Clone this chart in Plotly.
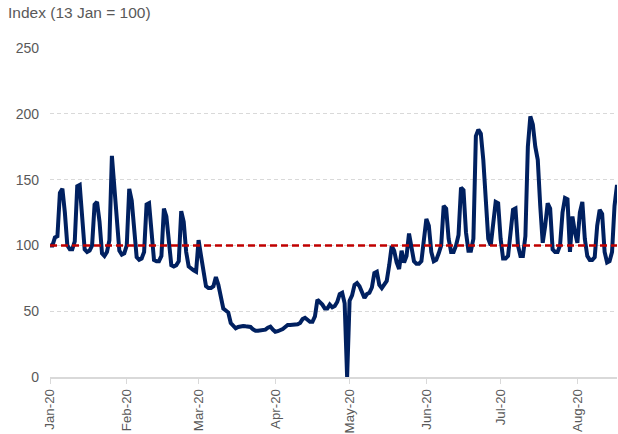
import pandas as pd
import plotly.graph_objects as go

START_DATE = "2020-01-13"
BASE = 100

# Daily index values (13 Jan = 100)
index_values = [
    100, 100, 106, 107, 140, 143, 125,
    100, 97, 97, 103, 145, 146, 118,
    97, 95, 96, 100, 131, 133, 118,
    94, 92, 95, 104, 168, 145, 120,
    96, 93, 94, 100, 143, 134, 112,
    91, 89, 90, 95, 131, 132, 108,
    89, 88, 88, 92, 128, 122, 100,
    85, 84, 85, 88, 126, 118, 95,
    84, 82, 81, 80, 104, 92, 78,
    69, 67.6, 67.6, 69, 76, 70, 62,
    52, 50.5, 49, 41, 39, 37, 38,
    38.8, 38.8, 38.5, 38.3, 38, 36.2, 35.2,
    35.2, 35.5, 35.2, 36, 37.5, 38.3, 36,
    34.4, 34.8, 35.5, 36.5, 38, 39.5, 39.5,
    39.5, 39.5, 40, 41, 44, 45, 43,
    42, 42, 46, 58.7, 57, 55, 52,
    52, 55, 53, 54, 57, 63, 64,
    56, 0, 58, 62, 70, 71.4, 69,
    65, 60, 63, 64, 68, 79, 80,
    70, 67.6, 70, 73, 85, 99.5, 96,
    87, 82, 96, 87, 92, 109, 100,
    88, 86, 86, 88, 105, 120, 115,
    95, 88, 89, 94, 100, 130, 128,
    105, 95, 95, 100, 108, 144, 142,
    110, 96, 96, 105, 183, 188, 185,
    165, 135, 105, 100, 118, 133, 132,
    105, 90, 90, 92, 108, 127, 128,
    100, 92, 92, 107, 175, 198, 192,
    175, 165, 130, 102, 115, 132, 128,
    97, 95, 95, 100, 125, 136, 135,
    95, 122, 110, 102, 125, 133, 105,
    92, 89, 89, 91, 115, 127, 124,
    95, 87, 88, 95, 130, 146,
]

tick_dates = ["2020-01-13", "2020-02-13", "2020-03-13", "2020-04-13",
              "2020-05-13", "2020-06-13", "2020-07-13", "2020-08-13"]
tick_labels = ["Jan-20", "Feb-20", "Mar-20", "Apr-20",
               "May-20", "Jun-20", "Jul-20", "Aug-20"]
y_ticks = [0, 50, 100, 150, 200, 250]

dates = pd.date_range(START_DATE, periods=len(index_values), freq="D")

fig = go.Figure()
fig.add_trace(go.Scatter(
    x=dates, y=index_values, mode="lines",
    line=dict(color="#002060", width=4),
    hoverinfo="skip", showlegend=False,
))
fig.add_trace(go.Scatter(
    x=[dates[0], dates[-1]], y=[BASE, BASE], mode="lines",
    line=dict(color="#C00000", width=2.5, dash="7px,4px"),
    hoverinfo="skip", showlegend=False,
))

font_family = "Liberation Sans, Arial, sans-serif"
fig.update_layout(
    width=618, height=434,
    margin=dict(l=50, r=1, t=48, b=57, autoexpand=False),
    paper_bgcolor="white", plot_bgcolor="white",
    font=dict(family=font_family, size=13, color="#595959"),
    xaxis=dict(
        range=[dates[0], dates[-1]], automargin=False,
        tickvals=pd.to_datetime(tick_dates), ticktext=tick_labels,
        tickangle=-90, showgrid=False,
        showline=True, linecolor="#d9d9d9", linewidth=1.5,
        ticks="outside", ticklen=5, tickcolor="#d9d9d9",
        tickfont=dict(size=13.3, color="#595959"),
        zeroline=False,
    ),
    yaxis=dict(
        range=[0, 250], tickvals=y_ticks, automargin=False,
        showgrid=True, gridcolor="#d9d9d9", griddash="4px,3px", gridwidth=1,
        zeroline=False, showline=False, ticks="",
        ticklabelstandoff=10,
        tickfont=dict(size=14, color="#595959"),
    ),
    annotations=[dict(
        text="Index (13 Jan = 100)", xref="paper", yref="paper",
        x=-44 / 567, y=1 + 35 / 329, xanchor="left", yanchor="middle",
        showarrow=False, font=dict(size=15.5, color="#595959"),
    )],
)

fig.write_html(
    "out.html",
    config={"displayModeBar": False},
    post_script="document.body.style.margin='0';document.body.style.overflow='hidden';",
)
